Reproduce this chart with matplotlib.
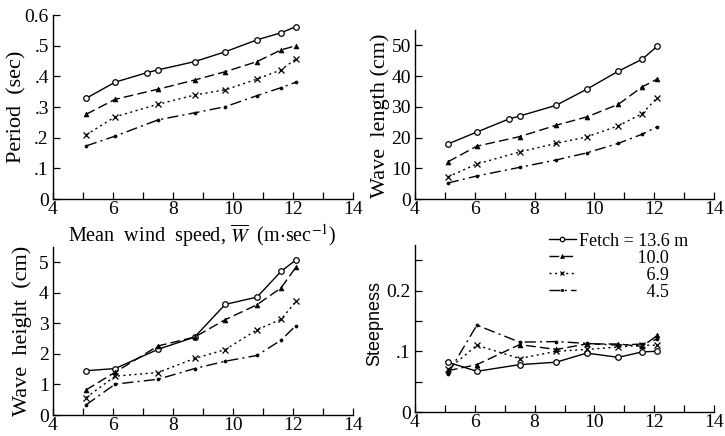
import matplotlib
matplotlib.use("Agg")
import matplotlib.pyplot as plt
from matplotlib.ticker import MultipleLocator, FixedLocator, FixedFormatter
from matplotlib.lines import Line2D

plt.rcParams['font.family'] = ['Liberation Serif', 'DejaVu Serif']
plt.rcParams['mathtext.fontset'] = 'stix'

# ---- data ----
W9 = [5.1, 6.07, 7.13, 7.5, 8.72, 9.74, 10.8, 11.6, 12.1]
W8 = [5.1, 6.07, 7.5, 8.72, 9.74, 10.8, 11.6, 12.1]

fetch_labels = ["Fetch = 13.6 m", "10.0", "6.9", "4.5"]

period_136 = [0.328, 0.381, 0.412, 0.421, 0.448, 0.480, 0.519, 0.542, 0.562]
period_100 = [0.276, 0.325, 0.358, 0.388, 0.415, 0.448, 0.486, 0.500]
period_69 = [0.209, 0.268, 0.309, 0.339, 0.356, 0.391, 0.421, 0.457]
period_45 = [0.173, 0.205, 0.258, 0.281, 0.301, 0.337, 0.363, 0.381]

length_136 = [17.9, 21.8, 26.0, 27.0, 30.5, 35.7, 41.6, 45.5, 49.7]
length_100 = [12.1, 17.2, 20.3, 24.0, 26.7, 30.8, 36.5, 39.0]
length_69 = [7.2, 11.4, 15.3, 18.1, 20.2, 23.8, 27.8, 33.0]
length_45 = [5.2, 7.5, 10.3, 12.7, 15.0, 18.1, 21.1, 23.5]

height_136 = [1.45, 1.52, 2.15, 2.55, 3.62, 3.86, 4.70, 5.08]
height_100 = [0.82, 1.40, 2.26, 2.55, 3.12, 3.61, 4.16, 4.84]
height_69 = [0.57, 1.27, 1.39, 1.85, 2.14, 2.79, 3.13, 3.72]
height_45 = [0.33, 1.01, 1.17, 1.52, 1.76, 1.95, 2.45, 2.93]

steep_136 = [0.082, 0.067, 0.078, 0.082, 0.097, 0.090, 0.099, 0.100]
steep_100 = [0.068, 0.078, 0.111, 0.103, 0.112, 0.112, 0.108, 0.126]
steep_69 = [0.070, 0.110, 0.088, 0.100, 0.103, 0.107, 0.110, 0.110]
steep_45 = [0.063, 0.143, 0.115, 0.116, 0.113, 0.110, 0.112, 0.120]

# ---- styles ----
styles = [
    dict(ls='-', marker='o', ms=4, mfc='white', mec='black', mew=0.9),
    dict(ls=(0, (7, 3)), marker='^', ms=3.5, mfc='black', mec='black', mew=0.5),
    dict(ls=(0, (1.5, 2.5)), marker='x', ms=4, mec='black', mew=0.9),
    dict(ls=(0, (8, 3, 1.5, 3)), marker='o', ms=2.2, mfc='black', mec='black', mew=0.5),
]

W, H = 725, 436
fig = plt.figure(figsize=(W / 100, H / 100), dpi=100)

def px_axes(l, r, b, t):
    return fig.add_axes([l / W, 1 - b / H, (r - l) / W, (b - t) / H])

ax1 = px_axes(53, 353, 199, 15)
ax2 = px_axes(415, 714, 199, 30)
ax3 = px_axes(53, 353, 415, 247)
ax4 = px_axes(415, 714, 412, 245)

panels = [
    (ax1, [(W9, period_136), (W8, period_100), (W8, period_69), (W8, period_45)], (0, 0.6)),
    (ax2, [(W9, length_136), (W8, length_100), (W8, length_69), (W8, length_45)], (0, 55)),
    (ax3, [(W8, height_136), (W8, height_100), (W8, height_69), (W8, height_45)], (0, 5.5)),
    (ax4, [(W8, steep_136), (W8, steep_100), (W8, steep_69), (W8, steep_45)], (0, 0.275)),
]

for ax, series, ylim in panels:
    for (xs, ys), st in zip(series, styles):
        ax.plot(xs, ys, color='black', lw=1.0, clip_on=False, **st)
    ax.set_xlim(4, 14)
    ax.set_ylim(*ylim)
    for s in ['top', 'right']:
        ax.spines[s].set_visible(False)
    for s in ['left', 'bottom']:
        ax.spines[s].set_linewidth(1.0)
    ax.xaxis.set_major_locator(MultipleLocator(2))
    ax.xaxis.set_minor_locator(MultipleLocator(1))
    ax.tick_params(which='both', direction='in', labelsize=14, width=0.9)
    ax.tick_params(axis='x', which='both', pad=1.5)
    ax.tick_params(axis='y', which='both', pad=3)
    ax.tick_params(which='major', length=5)
    ax.tick_params(which='minor', length=5)
    # first x tick label ("4") sits just right of the y axis, as in the original
    ax.get_xticklabels()[0].set_horizontalalignment('left')

# y ticks
ax1.yaxis.set_major_locator(FixedLocator([0, 0.1, 0.2, 0.3, 0.4, 0.5, 0.6]))
ax1.yaxis.set_major_formatter(FixedFormatter(['0', '.1', '.2', '.3', '.4', '.5', '0.6']))
ax2.yaxis.set_major_locator(FixedLocator([0, 10, 20, 30, 40, 50]))
ax3.yaxis.set_major_locator(FixedLocator([0, 1, 2, 3, 4, 5]))
ax4.yaxis.set_major_locator(FixedLocator([0, 0.1, 0.2]))
ax4.yaxis.set_major_formatter(FixedFormatter(['0', '.1', '0.2']))
ax4.yaxis.set_minor_locator(FixedLocator([0.05, 0.15, 0.25]))

# y labels (coords give the right edge of the rotated label)
ax1.set_ylabel("Period  (sec)", fontsize=16)
ax1.yaxis.set_label_coords(-0.087, 0.5)
ax2.set_ylabel("Wave  length (cm)", fontsize=16)
ax2.yaxis.set_label_coords(-0.085, 0.49)
ax3.set_ylabel("Wave  height  (cm)", fontsize=16)
ax3.yaxis.set_label_coords(-0.07, 0.5)
ax4.set_ylabel("Steepness", fontsize=13, family=['Liberation Sans', 'DejaVu Sans'])
ax4.yaxis.set_label_coords(-0.105, 0.53)

fig.text(202 / W, 1 - 236 / H, r"Mean  wind  speed, $\overline{W}$  (m$\cdot$sec$^{-1}$)",
         ha='center', va='center', fontsize=14.5)

# legend
handles = [Line2D([], [], color='black', lw=1.0, **st) for st in styles]
leg_labels = [fetch_labels[0],
              " " * 13 + fetch_labels[1],
              " " * 15 + fetch_labels[2],
              " " * 15 + fetch_labels[3]]
ax4.legend(handles, leg_labels, loc='upper left', bbox_to_anchor=(0.405, 1.15),
           frameon=False, fontsize=13, handlelength=1.5, handletextpad=0.2,
           labelspacing=0.0, borderpad=0.2, markerscale=0.8)

fig.savefig("out.png", dpi=100)
